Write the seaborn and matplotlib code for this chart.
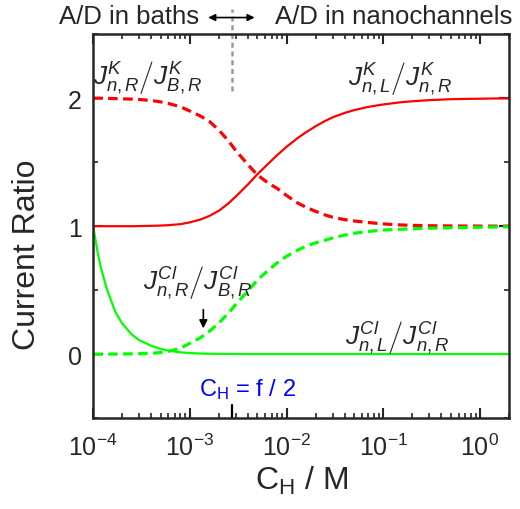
import numpy as np
import pandas as pd
import seaborn as sns
import matplotlib
matplotlib.use("Agg")
import matplotlib.pyplot as plt
from matplotlib.ticker import LogLocator, LogFormatterMathtext, MultipleLocator, NullFormatter

# concentration of H (M)
ch = [1.0e-4, 1.05e-4, 1.1e-4, 1.2e-4, 1.3e-4, 1.4e-4, 1.5e-4, 1.7e-4, 2.0e-4, 2.5e-4,
      3.0e-4, 4.0e-4, 5.0e-4, 6.0e-4, 8.0e-4,
      1.0e-3, 1.3e-3, 1.6e-3, 2.0e-3, 2.5e-3, 3.0e-3, 4.0e-3, 5.0e-3, 6.5e-3, 8.0e-3,
      1.0e-2, 1.3e-2, 1.6e-2, 2.0e-2, 2.5e-2, 3.0e-2, 4.0e-2, 5.0e-2, 7.0e-2,
      0.1, 0.15, 0.2, 0.3, 0.5, 0.7,
      1.0, 1.5, 2.0]

# J^K_{n,L} / J^K_{n,R}
k_lr = [1.0, 1.0, 1.0, 1.0, 1.0, 1.0, 1.0, 1.0, 1.0, 1.0,
        1.001, 1.003, 1.005, 1.008, 1.016,
        1.030, 1.053, 1.081, 1.121, 1.178, 1.233, 1.327, 1.406, 1.49, 1.555,
        1.62, 1.688, 1.735, 1.781, 1.822, 1.851, 1.885, 1.907, 1.932,
        1.951, 1.968, 1.976, 1.985, 1.992, 1.9945,
        1.996, 1.998, 1.998]

# J^K_{n,R} / J^K_{B,R}
k_nb = [2.0, 2.0, 2.0, 2.0, 1.999, 1.999, 1.998, 1.997, 1.995, 1.993,
        1.99, 1.982, 1.971, 1.959, 1.933,
        1.90, 1.859, 1.818, 1.75, 1.668, 1.589, 1.48, 1.40, 1.336, 1.295,
        1.24, 1.182, 1.147, 1.116, 1.088, 1.07, 1.051, 1.041, 1.029,
        1.018, 1.010, 1.0067, 1.0037, 1.002, 1.0013,
        1.0008, 1.0005, 1.0003]

# J^Cl_{n,L} / J^Cl_{n,R}
cl_lr = [1.0, 0.91, 0.82, 0.68, 0.585, 0.50, 0.44, 0.33, 0.24, 0.155,
         0.11, 0.065, 0.042, 0.028, 0.015,
         0.009, 0.005, 0.0035, 0.0025, 0.002, 0.0015, 0.001, 0.001, 0.001, 0.001,
         0.001, 0.001, 0.001, 0.001, 0.001, 0.001, 0.001, 0.001, 0.001,
         0.001, 0.001, 0.001, 0.001, 0.001, 0.001,
         0.001, 0.001, 0.001]

# J^Cl_{n,R} / J^Cl_{B,R}
cl_nb = [0.0, 0.0, 0.0, 0.0, 0.0005, 0.0007, 0.0009, 0.0012, 0.0017, 0.0027,
         0.004, 0.007, 0.013, 0.022, 0.047,
         0.085, 0.13, 0.18, 0.244, 0.32, 0.39, 0.495, 0.58, 0.657, 0.714,
         0.765, 0.813, 0.844, 0.87, 0.89, 0.908, 0.931, 0.945, 0.959,
         0.97, 0.976, 0.98, 0.984, 0.988, 0.99,
         0.992, 0.994, 0.995]

f_half = 2.7e-3  # C_H = f / 2

sns.set_style("ticks")
plt.rcParams['font.family'] = ['Liberation Sans', 'DejaVu Sans']
plt.rcParams['mathtext.fontset'] = 'custom'
plt.rcParams['mathtext.rm'] = 'Liberation Sans'
plt.rcParams['mathtext.it'] = 'Liberation Sans:italic'
plt.rcParams['mathtext.bf'] = 'Liberation Sans:bold'

df = pd.DataFrame({'CH': ch, 'k_lr': k_lr, 'k_nb': k_nb, 'cl_lr': cl_lr, 'cl_nb': cl_nb})

fig = plt.figure(figsize=(5.2, 5.1), dpi=100)
ax = fig.add_axes([0.179, 0.178, 0.8, 0.753])

red = '#ff0000'
green = '#00ff00'
dash = (0, (3.0, 1.7))
sns.lineplot(data=df, x='CH', y='k_lr', ax=ax, color=red, lw=1.6, estimator=None)
sns.lineplot(data=df, x='CH', y='k_nb', ax=ax, color=red, lw=2.3, dashes=False,
             linestyle=dash, estimator=None)
sns.lineplot(data=df, x='CH', y='cl_lr', ax=ax, color=green, lw=1.6, estimator=None)
sns.lineplot(data=df, x='CH', y='cl_nb', ax=ax, color=green, lw=2.3, dashes=False,
             linestyle=dash, estimator=None)

ax.set_xscale('log')
ax.set_xlim(1e-4, 2.0)
ax.set_ylim(-0.5, 2.5)

ax.xaxis.set_major_locator(LogLocator(base=10, numticks=10))
ax.xaxis.set_major_formatter(LogFormatterMathtext())
ax.xaxis.set_minor_locator(LogLocator(base=10, subs=np.arange(2, 10), numticks=20))
ax.xaxis.set_minor_formatter(NullFormatter())
ax.set_yticks([0, 1, 2])
ax.yaxis.set_minor_locator(MultipleLocator(0.5))

ax.tick_params(which='both', direction='in', top=True, right=True, labelsize=18, width=1.5)
ax.tick_params(which='major', length=7)
ax.tick_params(which='minor', length=3.5, width=1.2)
ax.tick_params(axis='x', pad=11)
ax.tick_params(axis='y', pad=8)
for s in ax.spines.values():
    s.set_linewidth(1.8)

ax.set_xlabel(r'C$_{\rm H}$ / M', fontsize=23)
ax.set_ylabel('Current Ratio', fontsize=23)
ax.xaxis.set_label_coords(0.5, -0.118)
ax.yaxis.set_label_coords(-0.123, 0.428)

# extra tick marking C_H = f/2
ax.axvline(f_half, ymin=0, ymax=0.035, color='black', lw=1.6)

# curve labels
lab_kw = dict(fontsize=19, ha='center', va='center')
ax.text(3.7e-4, 2.17, r'$J^{K}_{n,R}\left/J^{K}_{B,R}\right.$', **lab_kw)
ax.text(0.15, 2.16, r'$J^{K}_{n,L}\left/J^{K}_{n,R}\right.$', **lab_kw)
ax.text(1.2e-3, 0.57, r'$J^{Cl}_{n,R}\left/J^{Cl}_{B,R}\right.$', **lab_kw)
ax.text(0.14, 0.14, r'$J^{Cl}_{n,L}\left/J^{Cl}_{n,R}\right.$', **lab_kw)

ax.annotate('', xy=(1.38e-3, 0.18), xytext=(1.38e-3, 0.37),
            arrowprops=dict(arrowstyle='-|>', color='black', lw=1.2, mutation_scale=12))

ax.text(3.9e-3, -0.27, r'C$_{\rm H}$ = f / 2', color='#0000ff', fontsize=17,
        ha='center', va='center')

# bath / nanochannel divider above the axes
ax.axvline(f_half, ymin=0.852, ymax=1.065, color='#999999', lw=1.8,
           linestyle=(0, (2, 1.5)), clip_on=False)
ax.annotate('', xy=(1.45e-3, 2.63), xytext=(5.0e-3, 2.63),
            arrowprops=dict(arrowstyle='<|-|>', color='black', lw=1.2, mutation_scale=10),
            annotation_clip=False)
fig.text(0.248, 0.967, 'A/D in baths', fontsize=18.5, ha='center', va='center')
fig.text(0.758, 0.967, 'A/D in nanochannels', fontsize=18.5, ha='center', va='center')

fig.savefig('out.png', dpi=100)
